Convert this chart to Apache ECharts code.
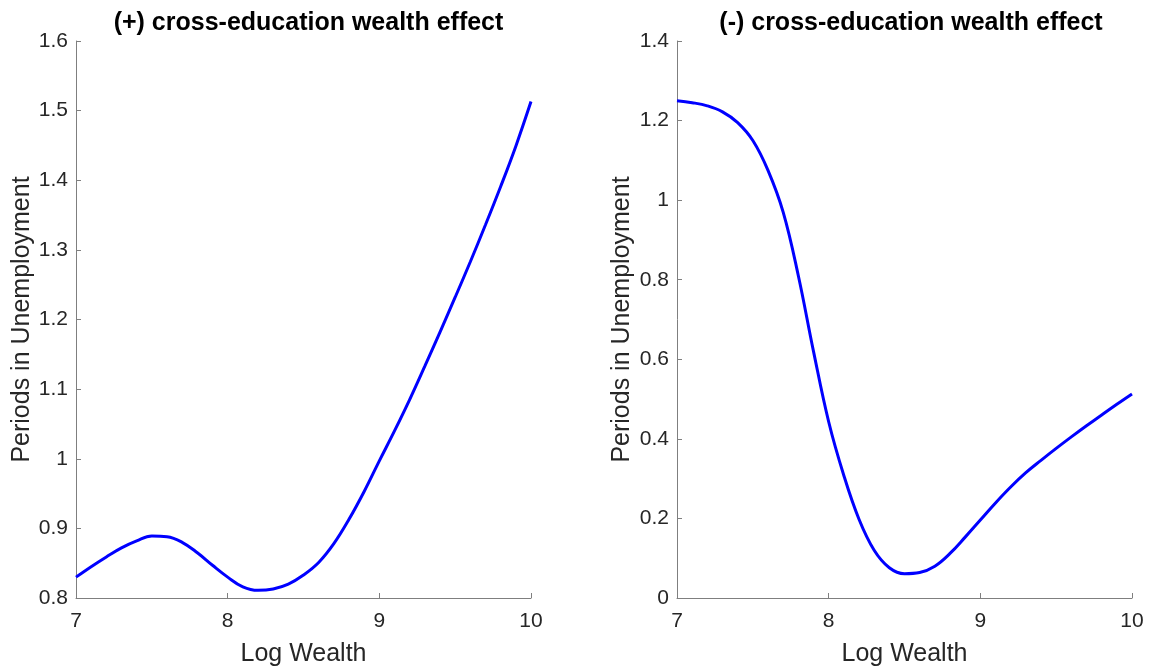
<!DOCTYPE html>
<html>
<head>
<meta charset="utf-8">
<title>cross-education wealth effect</title>
<script src="https://cdn.jsdelivr.net/npm/echarts@6/dist/echarts.min.js"></script>
<style>
  html, body { margin: 0; padding: 0; background: #fff; }
  #chart { width: 1149px; height: 666px; }
</style>
</head>
<body>
<div id="chart"></div>
<script>
// log wealth grid (shared by both panels)
var logWealth = [7.0, 7.1, 7.2, 7.3, 7.4, 7.5, 7.6, 7.7, 7.8, 7.9,
  8.0, 8.1, 8.2, 8.3, 8.4, 8.5, 8.6, 8.7, 8.8, 8.9,
  9.0, 9.1, 9.2, 9.3, 9.4, 9.5, 9.6, 9.7, 9.8, 9.9, 10.0];

// (+) cross-education wealth effect
var posEffect = [0.830, 0.845, 0.859, 0.872, 0.882, 0.889, 0.888, 0.880, 0.865, 0.847,
  0.830, 0.816, 0.811, 0.813, 0.820, 0.833, 0.851, 0.878, 0.913, 0.953,
  0.997, 1.040, 1.085, 1.133, 1.182, 1.232, 1.283, 1.336, 1.391, 1.449, 1.513];

// (-) cross-education wealth effect
var negEffect = [1.250, 1.245, 1.237, 1.222, 1.195, 1.150, 1.075, 0.970, 0.810, 0.620,
  0.443, 0.308, 0.198, 0.120, 0.076, 0.061, 0.064, 0.080, 0.112, 0.153,
  0.196, 0.239, 0.279, 0.315, 0.346, 0.376, 0.405, 0.433, 0.460, 0.487, 0.513];

var titles = ["(+) cross-education wealth effect", "(-) cross-education wealth effect"];
var xName = "Log Wealth";
var yName = "Periods in Unemployment";

var FONT = "'Liberation Sans', Arial, Helvetica, sans-serif";
var axisGrey = "#7f7f7f";
var textGrey = "#262626";

function pairs(xs, ys) {
  return xs.map(function (x, i) { return [x, ys[i]]; });
}

function xAxisOf(idx) {
  return {
    type: "value",
    gridIndex: idx,
    min: 7,
    max: 10,
    interval: 1,
    name: xName,
    nameLocation: "middle",
    nameGap: 44,
    nameTextStyle: { color: textGrey, fontSize: 25, fontFamily: FONT },
    axisLine: { show: true, onZero: false, lineStyle: { color: axisGrey, width: 1 } },
    axisTick: { show: true, inside: true, length: 5, lineStyle: { color: axisGrey } },
    axisLabel: { color: textGrey, fontSize: 21, fontFamily: FONT, margin: 13 },
    splitLine: { show: false }
  };
}

function yAxisOf(idx, min, max, step, gap) {
  return {
    type: "value",
    gridIndex: idx,
    min: min,
    max: max,
    interval: step,
    name: yName,
    nameLocation: "middle",
    nameRotate: 90,
    nameGap: gap,
    nameTextStyle: { color: textGrey, fontSize: 25, fontFamily: FONT },
    axisLine: { show: true, lineStyle: { color: axisGrey, width: 1 } },
    axisTick: { show: true, inside: true, length: 5, lineStyle: { color: axisGrey } },
    axisLabel: {
      color: textGrey, fontSize: 21, fontFamily: FONT, margin: 8,
      formatter: function (v) { return String(Math.round(v * 10) / 10); }
    },
    splitLine: { show: false }
  };
}

function lineOf(idx, ys) {
  return {
    type: "line",
    xAxisIndex: idx,
    yAxisIndex: idx,
    data: pairs(logWealth, ys),
    smooth: 0.4,
    showSymbol: false,
    lineStyle: { color: "#0000ff", width: 3 },
    animation: false
  };
}

var myChart = echarts.init(document.getElementById("chart"));

var option = {
  backgroundColor: "#fff",
  animation: false,
  title: [
    {
      text: titles[0], left: 303.5, top: 6, textAlign: "center",
      textStyle: { color: "#000", fontSize: 25, fontWeight: "bold", fontFamily: FONT }
    },
    {
      text: titles[1], left: 906, top: 6, textAlign: "center",
      textStyle: { color: "#000", fontSize: 25, fontWeight: "bold", fontFamily: FONT }
    }
  ],
  grid: [
    { left: 76, right: 618, top: 41, bottom: 68, outerBoundsMode: "none", containLabel: false },
    { left: 677, right: 17, top: 41, bottom: 68, outerBoundsMode: "none", containLabel: false }
  ],
  xAxis: [xAxisOf(0), xAxisOf(1)],
  yAxis: [yAxisOf(0, 0.8, 1.6, 0.1, 41), yAxisOf(1, 0, 1.4, 0.2, 42)],
  series: [lineOf(0, posEffect), lineOf(1, negEffect)]
};

myChart.setOption(option);
</script>
</body>
</html>
